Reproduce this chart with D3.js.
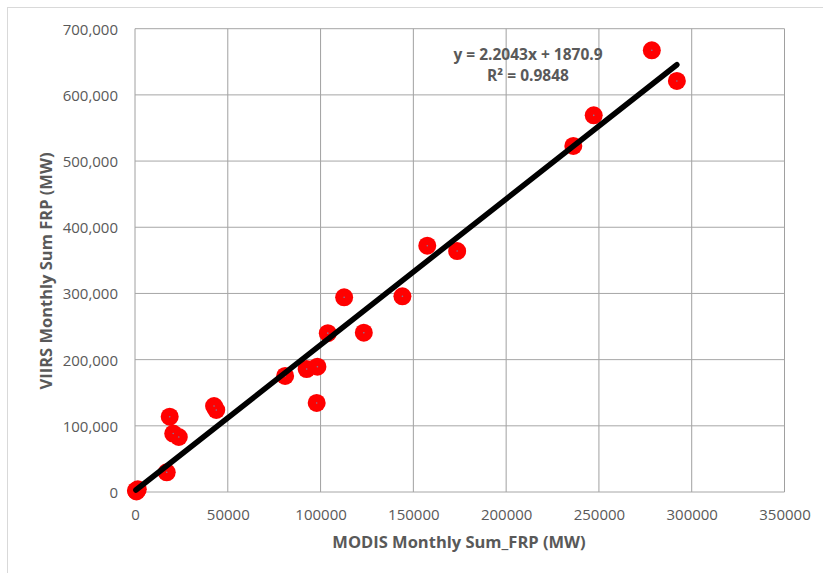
<!DOCTYPE html>
<html><head><meta charset="utf-8">
<script src="https://cdn.jsdelivr.net/npm/d3@7"></script>
<style>body{margin:0;background:#fff}svg{display:block}</style>
</head><body>
<svg id="c" width="823" height="573"></svg>
<script>
// Data
const modisX = [500, 1500, 800, 17100, 18700, 20600, 23600, 42600, 43800, 80900, 92500, 98300, 97900, 103900, 112700, 123300, 144100, 157500, 173600, 236200, 247200, 278500, 292000];
const viirsY = [2000, 4000, 800, 29800, 113800, 88300, 83100, 129900, 123900, 175300, 185800, 189300, 134500, 240000, 294200, 240700, 295700, 372100, 364100, 522800, 569100, 667400, 621000];
const xTicks = [0, 50000, 100000, 150000, 200000, 250000, 300000, 350000];
const yTicks = [0, 100000, 200000, 300000, 400000, 500000, 600000, 700000];
const slope = 2.2043, intercept = 1870.9, r2 = 0.9848;
const eqLabel = "y = 2.2043x + 1870.9";
const r2Label = "R² = 0.9848";
const xTitle = "MODIS Monthly Sum_FRP (MW)";
const yTitle = "VIIRS Monthly Sum FRP (MW)";

const svg = d3.select("#c");
const L = 135, R = 784.5, T = 28.7, B = 492;
const x = d3.scaleLinear().domain([0, 350000]).range([L, R]);
const y = d3.scaleLinear().domain([0, 700000]).range([B, T]);
const font = "'Open Sans', sans-serif";
const grey = "#595959";

// outer chart border
svg.append("rect").attr("x", 7.5).attr("y", 7.5).attr("width", 830).attr("height", 580)
  .attr("fill", "none").attr("stroke", "#d9d9d9").attr("stroke-width", 1);

// grid
const g = svg.append("g");
g.selectAll(".vx").data(xTicks).join("line")
  .attr("x1", d => x(d)).attr("x2", d => x(d)).attr("y1", T).attr("y2", B)
  .attr("stroke", "#a0a0a0").attr("stroke-width", 1);
g.selectAll(".hy").data(yTicks).join("line")
  .attr("y1", d => y(d)).attr("y2", d => y(d)).attr("x1", L).attr("x2", R)
  .attr("stroke", "#a6a6a6").attr("stroke-width", 1);

// axes (tick labels only)
const xAxis = d3.axisBottom(x).tickValues(xTicks).tickSize(0).tickPadding(0).tickFormat(d3.format("d"));
const ya = d3.axisLeft(y).tickValues(yTicks).tickSize(0).tickPadding(0).tickFormat(d3.format(","));
const gx = svg.append("g").attr("transform", `translate(0,${B})`).call(xAxis);
gx.select(".domain").remove();
gx.selectAll("text").attr("dy", null).attr("y", 28).attr("fill", grey)
  .style("font-family", font).style("font-size", "15px");
const gy = svg.append("g").attr("transform", `translate(${L - 17},0)`).call(ya);
gy.select(".domain").remove();
gy.selectAll("text").attr("dy", "0.36em").attr("x", 0).attr("fill", grey)
  .style("font-family", font).style("font-size", "15px");

// points
const pts = modisX.map((v, i) => ({x: v, y: viirsY[i]}));
svg.append("g").selectAll("circle").data(pts).join("circle")
  .attr("cx", d => x(d.x)).attr("cy", d => y(d.y)).attr("r", 9)
  .attr("fill", "#ff0000");
svg.append("g").selectAll("circle").data(pts).join("circle")
  .attr("cx", d => x(d.x)).attr("cy", d => y(d.y)).attr("r", 0.8)
  .attr("fill", "#7f7fa0");

// trendline
const xmin = d3.min(modisX), xmax = d3.max(modisX);
svg.append("line")
  .attr("x1", x(xmin)).attr("y1", y(slope * xmin + intercept))
  .attr("x2", x(xmax)).attr("y2", y(slope * xmax + intercept))
  .attr("stroke", "#000").attr("stroke-width", 5.5).attr("stroke-linecap", "round");

// equation
svg.append("text").attr("x", 528).attr("y", 60).attr("text-anchor", "middle")
  .attr("fill", grey).style("font-family", font).style("font-size", "15.5px").style("font-weight", "bold")
  .text(eqLabel);
svg.append("text").attr("x", 528).attr("y", 81).attr("text-anchor", "middle")
  .attr("fill", grey).style("font-family", font).style("font-size", "15.5px").style("font-weight", "bold")
  .text(r2Label);

// axis titles
svg.append("text").attr("x", 459).attr("y", 548).attr("text-anchor", "middle")
  .attr("fill", grey).style("font-family", font).style("font-size", "16.5px").style("font-weight", "bold")
  .text(xTitle);
svg.append("text").attr("transform", "translate(52,271) rotate(-90)").attr("text-anchor", "middle")
  .attr("fill", grey).style("font-family", font).style("font-size", "16.5px").style("font-weight", "bold")
  .text(yTitle);
</script>
</body></html>
